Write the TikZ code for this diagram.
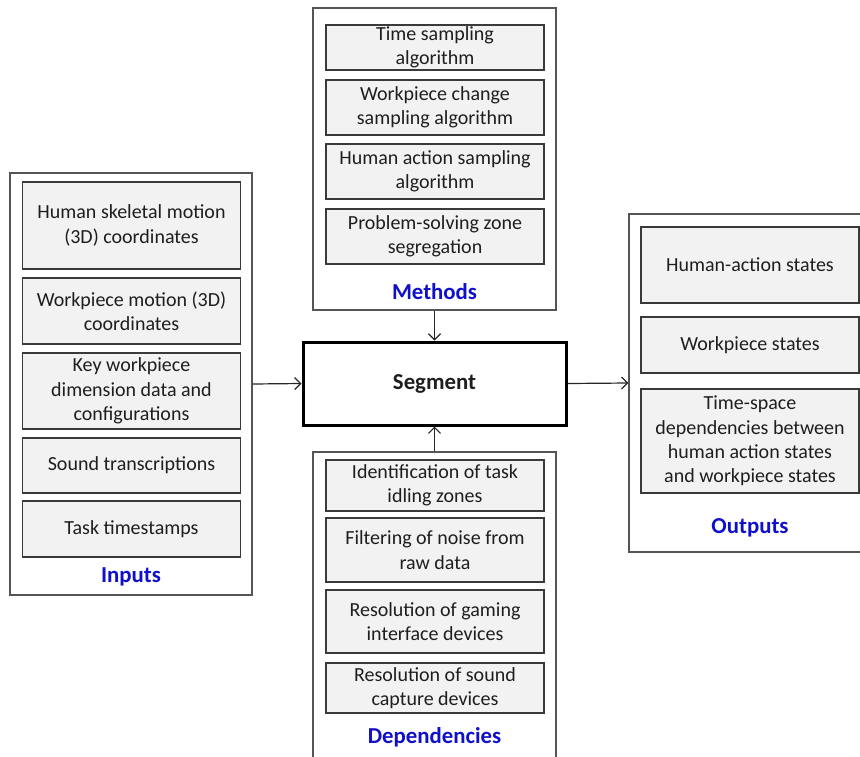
\documentclass[tikz,border=0pt]{standalone}
\usepackage{fontspec}
\setmainfont{Carlito}
\usetikzlibrary{arrows.meta}
\definecolor{boxfill}{HTML}{F2F2F2}
\definecolor{boxline}{HTML}{3A3A3A}
\definecolor{frameline}{HTML}{555555}
\definecolor{titleblue}{HTML}{1010CC}
\definecolor{txt}{HTML}{1E1E1E}
\tikzset{
  item/.style={draw=boxline, fill=boxfill, line width=1.4pt, align=center,
    minimum width=218pt, inner sep=0pt, text=txt,
    font=\fontsize{20}{24.3}\selectfont},
  frame/.style={draw=frameline, line width=1.3pt, inner sep=0pt},
  grouptitle/.style={text=titleblue, font=\fontsize{22.8}{26}\selectfont\bfseries},
  core/.style={draw=black, line width=3pt, minimum width=263pt, minimum height=83pt,
    inner sep=0pt, text=txt, font=\fontsize{22.8}{26}\selectfont\bfseries},
  flow/.style={line width=1.2pt, draw=black!85, -{Straight Barb[length=6pt,width=12pt,line width=1.2pt]}}
}
\begin{document}
\begin{tikzpicture}[x=1pt,y=-1pt]
\clip (0,0) rectangle (860,756);
\fill[white] (0,0) rectangle (860,756);

% group frames
\node[frame, minimum width=242pt, minimum height=422pt] (inputs) at (131,384) {};
\node[frame, minimum width=243pt, minimum height=302pt] (methods) at (434.5,159) {};
\node[frame, minimum width=243pt, minimum height=310pt] (deps) at (434.5,607) {};
\node[frame, minimum width=241pt, minimum height=338pt] (outputs) at (749.5,383) {};

% inputs
\node[item, minimum height=87pt] (i1) at (131.5,225.5) {Human skeletal motion\\(3D) coordinates};
\node[item, minimum height=66pt] (i2) at (131.5,311) {Workpiece motion (3D)\\coordinates};
\node[item, minimum height=76pt] (i3) at (131.5,391) {Key workpiece\\dimension data and\\configurations};
\node[item, minimum height=55pt] (i4) at (131.5,465.5) {Sound transcriptions};
\node[item, minimum height=56pt] (i5) at (131.5,529) {Task timestamps};
\node[grouptitle] (tin) at (131,577) {Inputs};

% methods
\node[item, minimum height=45pt] (m1) at (435,47.5) {Time sampling\\algorithm};
\node[item, minimum height=55pt] (m2) at (435,107.5) {Workpiece change\\sampling algorithm};
\node[item, minimum height=55pt] (m3) at (435,171.5) {Human action sampling\\algorithm};
\node[item, minimum height=55pt] (m4) at (435,236.5) {Problem-solving zone\\segregation};
\node[grouptitle] (tme) at (434.5,292) {Methods};

% dependencies
\node[item, minimum height=51pt] (d1) at (435,485.5) {Identification of task\\idling zones};
\node[item, minimum height=64pt] (d2) at (435,550) {Filtering of noise from\\raw data};
\node[item, minimum height=63pt] (d3) at (435,621.5) {Resolution of gaming\\interface devices};
\node[item, minimum height=50pt] (d4) at (435,688) {Resolution of sound\\capture devices};
\node[grouptitle] (tde) at (434.5,737) {Dependencies};

% outputs
\node[item, minimum height=76pt] (o1) at (750,265) {Human-action states};
\node[item, minimum height=56pt] (o2) at (750,345) {Workpiece states};
\node[item, minimum height=104pt] (o3) at (750,441) {Time-space\\dependencies between\\human action states\\and workpiece states};
\node[grouptitle] (tou) at (750,528) {Outputs};

% central step
\node[core] (seg) at (434.5,383.5) {Segment};

% connectors
\draw[flow] (inputs.east) -- (seg.west);
\draw[flow] (methods.south) -- (seg.north);
\draw[flow] (deps.north) -- (seg.south);
\draw[flow] (seg.east) -- (outputs.west);
\end{tikzpicture}
\end{document}
